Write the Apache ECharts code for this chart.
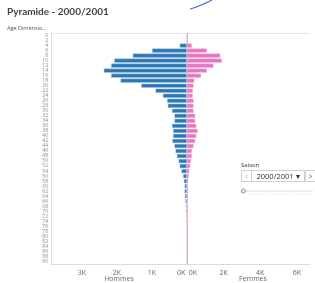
<!DOCTYPE html>
<html><head><meta charset="utf-8">
<script src="https://cdn.jsdelivr.net/npm/echarts@6/dist/echarts.min.js"></script>
<style>html,body{margin:0;padding:0;background:#fff;}#c{width:315px;height:283px;}</style>
</head><body><div id="c"></div>
<script>
var ages = [];
for (var a = 0; a <= 90; a += 2) ages.push(String(a));
// values (licencies par age)
var hommes = [0,0,210,1000,1550,2080,2170,2380,2170,1900,1310,900,690,570,550,430,360,360,430,400,400,420,360,330,290,240,210,160,110,90,70,70,60,50,30,30,20,20,0,0,0,0,0,0,0,0];
var femmes = [0,0,270,1090,1820,1910,1450,1090,770,400,360,320,320,360,360,360,450,450,510,580,510,450,360,270,270,220,180,130,100,70,50,30,30,20,10,10,0,0,0,0,0,0,0,0,0,0];

var chart = echarts.init(document.getElementById('c'), null, {renderer:'canvas'});
var font = 'Open Sans';
var option = {
  animation:false,
  textStyle:{fontFamily:font},
  title:{text:'Pyramide - 2000/2001', left:7, top:7, padding:0, textStyle:{fontSize:10, fontWeight:'bold', color:'#444', fontFamily:'Lato'}},
  grid:[{left:51, top:33, width:136, bottom:19},{left:187, top:33, width:123, bottom:19}],
  xAxis:[
    {gridIndex:0, type:'value', inverse:true, min:0, max:3886, interval:1000,
     axisLine:{show:true, lineStyle:{color:'#dcdcdc'}}, axisTick:{show:false}, splitLine:{show:false},
     axisLabel:{fontSize:7, color:'#666', margin:5, alignMinLabel:'right',
       formatter:function(v){ return v===0 ? '0K ' : (v%1000===0 ? (v/1000)+'K' : ''); }}},
    {gridIndex:1, type:'value', min:0, max:6720, interval:2000,
     axisLine:{show:true, lineStyle:{color:'#dcdcdc'}}, axisTick:{show:false}, splitLine:{show:false},
     axisLabel:{fontSize:7, color:'#666', margin:5, alignMinLabel:'left',
       formatter:function(v){ return v===0 ? ' 0K' : (v%2000===0 ? (v/1000)+'K' : ''); }}}
  ],
  yAxis:[
    {gridIndex:0, type:'category', data:ages, inverse:true,
     axisLine:{show:true, onZero:false, lineStyle:{color:'#e2e2e2'}}, axisTick:{show:false},
     axisLabel:{interval:0, fontSize:5, color:'#888', margin:3}},
    {gridIndex:1, type:'category', data:ages, inverse:true,
     axisLine:{show:true, onZero:false, lineStyle:{color:'#f2a9c9', width:1}}, axisTick:{show:false},
     axisLabel:{show:false}}
  ],
  series:[
    {type:'bar', xAxisIndex:0, yAxisIndex:0, data:hommes, barWidth:4.3,
     itemStyle:{color:'#2d77b4', borderColor:'rgba(165,200,232,0.8)', borderWidth:0.6}},
    {type:'bar', xAxisIndex:1, yAxisIndex:1, data:femmes, barWidth:4.3,
     itemStyle:{color:'#e377c2', borderColor:'rgba(246,185,214,0.8)', borderWidth:0.6}}
  ],
  graphic:[
    {type:'line', shape:{x1:51, y1:33.5, x2:310, y2:33.5}, style:{stroke:'#e6e6e6', lineWidth:1}, z:0},
    {type:'text', left:7, top:25, style:{text:'Age Dimensio..', fontSize:5.5, fill:'#555', fontFamily:font}},
    {type:'text', x:119, y:279, style:{text:'Hommes', fontSize:7, fill:'#666', fontFamily:font, align:'center', verticalAlign:'middle'}},
    {type:'text', x:253, y:279, style:{text:'Femmes', fontSize:7, fill:'#666', fontFamily:font, align:'center', verticalAlign:'middle'}},
    {type:'text', x:241, y:165, style:{text:'Saison', fontSize:6, fill:'#333', fontFamily:font, verticalAlign:'middle'}},
    {type:'rect', shape:{x:241.5, y:170.5, width:63, height:11}, style:{fill:'#fff', stroke:'#d0d0d0', lineWidth:1}},
    {type:'line', shape:{x1:251.5, y1:170.5, x2:251.5, y2:181.5}, style:{stroke:'#d0d0d0'}},
    {type:'rect', shape:{x:305.5, y:170.5, width:12, height:11}, style:{fill:'#fff', stroke:'#d0d0d0', lineWidth:1}},
    {type:'text', x:246.5, y:176.5, style:{text:'<', fontSize:7, fill:'#bbb', fontFamily:font, align:'center', verticalAlign:'middle'}},
    {type:'text', x:278, y:176.5, style:{text:'2000/2001 \u25BE', fontSize:7.5, fill:'#333', fontFamily:font, align:'center', verticalAlign:'middle'}},
    {type:'text', x:310.5, y:176.5, style:{text:'>', fontSize:7, fill:'#555', fontFamily:font, align:'center', verticalAlign:'middle'}},
    {type:'line', shape:{x1:245, y1:191, x2:313, y2:191}, style:{stroke:'#ddd', lineWidth:1}},
    {type:'line', shape:{x1:245, y1:194, x2:313, y2:194}, style:{stroke:'#ddd', lineWidth:1, lineDash:[1,2]}},
    {type:'circle', shape:{cx:243.3, cy:191, r:2}, style:{fill:'#fff', stroke:'#888', lineWidth:1}},
    {type:'bezierCurve', shape:{x1:190, y1:9, cpx1:198, cpy1:7, x2:212, y2:0}, style:{stroke:'#3f6fc4', lineWidth:1.2, fill:null}}
  ]
};
chart.setOption(option);
</script></body></html>
